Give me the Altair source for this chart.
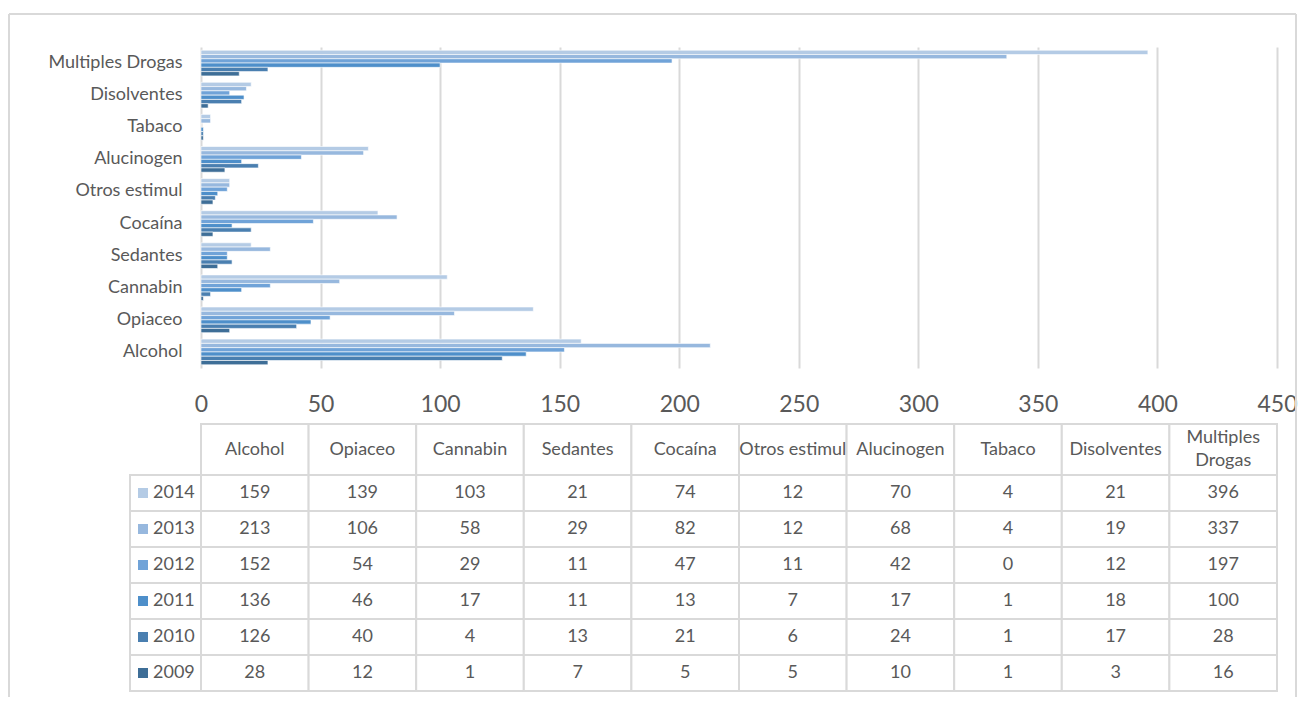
import altair as alt
import pandas as pd

categories = ["Alcohol", "Opiaceo", "Cannabin", "Sedantes", "Cocaína",
              "Otros estimul", "Alucinogen", "Tabaco", "Disolventes", "Multiples Drogas"]
years = ["2014", "2013", "2012", "2011", "2010", "2009"]
v2014 = [159, 139, 103, 21, 74, 12, 70, 4, 21, 396]
v2013 = [213, 106, 58, 29, 82, 12, 68, 4, 19, 337]
v2012 = [152, 54, 29, 11, 47, 11, 42, 0, 12, 197]
v2011 = [136, 46, 17, 11, 13, 7, 17, 1, 18, 100]
v2010 = [126, 40, 4, 13, 21, 6, 24, 1, 17, 28]
v2009 = [28, 12, 1, 7, 5, 5, 10, 1, 3, 16]
x_ticks = [0, 50, 100, 150, 200, 250, 300, 350, 400, 450]
colors = ["#B4CBE5", "#97B8DE", "#70A3D8", "#4E8FCA", "#4A7FB0", "#3E6E97"]

series = [v2014, v2013, v2012, v2011, v2010, v2009]
FONT = "Lato"
TXT = "#595959"
GRID = "#d9d9d9"

rows = []
for yr, vals in zip(years, series):
    for c, v in zip(categories, vals):
        rows.append({"category": c, "year": yr, "value": v})
df = pd.DataFrame(rows)

color_scale = alt.Scale(domain=years, range=colors)

bars = alt.Chart(df).mark_bar(stroke="white", strokeWidth=0.6).encode(
    x=alt.X("value:Q", scale=alt.Scale(domain=[0, 450], nice=False),
            axis=alt.Axis(values=x_ticks, grid=True, gridColor=GRID, gridWidth=2,
                          domain=False, ticks=False, labelFontSize=23, labelColor=TXT,
                          labelFont=FONT, labelPadding=25, labelFlush=False, title=None)),
    y=alt.Y("category:N", sort=categories[::-1],
            scale=alt.Scale(paddingInner=0.2, paddingOuter=0.1),
            axis=alt.Axis(title=None, domain=False, ticks=False, labelFontSize=18,
                          labelColor=TXT, labelFont=FONT, labelPadding=19)),
    yOffset=alt.YOffset("year:N", sort=years),
    color=alt.Color("year:N", scale=color_scale, legend=None),
)

one = pd.DataFrame({"a": [0]})
frame_left = alt.Chart(one).mark_rule(color=GRID, strokeWidth=2).encode(
    x=alt.value(-192), y=alt.value(-33), y2=alt.value(650))
frame_top = alt.Chart(one).mark_rule(color=GRID, strokeWidth=2).encode(
    x=alt.value(-192), x2=alt.value(1095), y=alt.value(-33))
frame_right = alt.Chart(one).mark_rule(color=GRID, strokeWidth=2).encode(
    x=alt.value(1095), y=alt.value(-33), y2=alt.value(650))

top = alt.layer(frame_left, frame_top, frame_right, bars).properties(width=1076, height=321)

# ---- data table ----
HDR = 51 / 36.0
RH = 71 / 107.6
cells = []
for i, c in enumerate(categories):
    two_lines = " " in c and len(c) > 14
    cells.append({"kind": "head", "x": i, "x2": i + 1, "y": 0, "y2": HDR,
                  "xc": i + 0.5, "yc": HDR / 2 - (11.5 / 36 if two_lines else 0),
                  "text": c.replace(" ", "\n") if two_lines else c, "year": ""})
for r, (yr, vals) in enumerate(zip(years, series)):
    y0 = HDR + r
    cells.append({"kind": "rowhead", "x": -RH, "x2": 0, "y": y0, "y2": y0 + 1,
                  "xc": -48 / 107.6, "yc": y0 + 0.5, "text": yr, "year": yr})
    for i, v in enumerate(vals):
        cells.append({"kind": "val", "x": i, "x2": i + 1, "y": y0, "y2": y0 + 1,
                      "xc": i + 0.5, "yc": y0 + 0.5, "text": str(v), "year": yr})
tdf = pd.DataFrame(cells)
tdf["sx"] = -58 / 107.6

xs = alt.Scale(domain=[0, 10], nice=False, zero=False)
ys = alt.Scale(domain=[0, HDR + 6], nice=False, zero=False, reverse=True)

base = alt.Chart(tdf)
grid_cells = base.mark_rect(fill="white", stroke=GRID, strokeWidth=2).encode(
    x=alt.X("x:Q", scale=xs, axis=None), x2="x2:Q",
    y=alt.Y("y:Q", scale=ys, axis=None), y2="y2:Q")
head_txt = base.transform_filter("datum.kind == 'head'").mark_text(
    fontSize=18, color=TXT, font=FONT, lineBreak="\n", lineHeight=23).encode(
    x=alt.X("xc:Q", scale=xs, axis=None), y=alt.Y("yc:Q", scale=ys, axis=None), text="text:N")
val_txt = base.transform_filter("datum.kind == 'val'").mark_text(
    fontSize=18, color=TXT, font=FONT).encode(
    x=alt.X("xc:Q", scale=xs, axis=None), y=alt.Y("yc:Q", scale=ys, axis=None), text="text:N")
row_txt = base.transform_filter("datum.kind == 'rowhead'").mark_text(
    fontSize=18, color=TXT, font=FONT, align="left").encode(
    x=alt.X("xc:Q", scale=xs, axis=None), y=alt.Y("yc:Q", scale=ys, axis=None), text="text:N")
swatch = base.transform_filter("datum.kind == 'rowhead'").mark_square(size=100, opacity=1).encode(
    x=alt.X("sx:Q", scale=xs, axis=None), y=alt.Y("yc:Q", scale=ys, axis=None),
    color=alt.Color("year:N", scale=color_scale, legend=None))

table = alt.layer(grid_cells, head_txt, val_txt, row_txt, swatch).properties(
    width=1076, height=(HDR + 6) * 36)

chart = alt.vconcat(top, table, spacing=56, bounds="flush").properties(
    padding={"left": 0, "top": 5, "right": 0, "bottom": 0}
).configure_view(stroke=None).resolve_scale(color="shared")

chart.save("out.html", embed_options={"renderer": "svg", "actions": False})
